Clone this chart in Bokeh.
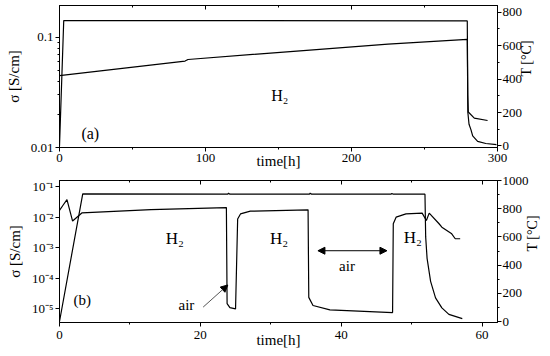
import math
from bokeh.plotting import figure
from bokeh.models import (Range1d, LinearAxis, FixedTicker, CustomJSTickFormatter,
                          Arrow, NormalHead, LinearScale)
from bokeh.layouts import column
from bokeh.embed import file_html
from bokeh.resources import INLINE
from bokeh.core.properties import value

# ---------------- data: panel (a) ----------------
a_time_sigma = [0, 86, 88, 167, 225, 279.3, 279.6, 280.0, 284.1, 293.2]
a_sigma = [0.045, 0.061, 0.063, 0.076, 0.087, 0.096, 0.030, 0.021, 0.0185, 0.0176]
a_time_T = [0, 2.9, 279.3, 279.7, 280.5, 281.8, 283.0, 286.4, 292.0, 299.3]
a_T = [0, 750, 748, 200, 130, 98, 60, 28, 15, 8]

a_xticks = [0, 100, 200, 300]
a_xminor = [50, 150, 250]
a_yticks = [0.01, 0.1]
a_yminor = [0.02, 0.03, 0.04, 0.05, 0.06, 0.07, 0.08, 0.09]
a_Tticks = [0, 200, 400, 600, 800]
a_Tminor = [100, 300, 500, 700]

a_text = ["H\u2082", "(a)"]
a_text_x = [145, 15]
a_text_y = [0.0295, 0.0134]

# ---------------- data: panel (b) ----------------
b_time_sigma = [0, 0.5, 1.06, 1.86, 3.17, 13, 23.7, 23.8, 24.2, 25.0, 25.3, 25.7, 27.1,
                35.3, 35.4, 36.0, 38.4, 47.3, 47.4, 47.8, 49.2, 51.5, 52.1, 52.5,
                53.9, 54.3, 55.7, 56.2, 56.9]
b_sigma = [0.017, 0.025, 0.038, 0.0076, 0.014, 0.018, 0.021, 1.5e-5, 1.1e-5, 1.0e-5,
           0.0089, 0.013, 0.016, 0.0177, 2.4e-5, 1.3e-5, 9.3e-6, 7.6e-6, 0.0062, 0.0102,
           0.013, 0.0138, 0.0079, 0.0138, 0.0062, 0.0048, 0.0029, 0.0020, 0.0020]
b_time_T = [0, 3.3, 23.9, 24.0, 24.2, 35.5, 35.6, 35.8, 47.1, 47.2, 47.4, 51.9,
            52.0, 52.2, 52.7, 53.4, 54.3, 55.3, 57.2]
b_T = [0, 905, 903, 910, 903, 903, 910, 903, 903, 908, 903, 903,
       600, 448, 285, 168, 97, 51, 20]

b_xticks = [0, 20, 40, 60]
b_xminor = [10, 30, 50]
b_yticks = [1e-5, 1e-4, 1e-3, 1e-2, 1e-1]
b_Tticks = [0, 200, 400, 600, 800, 1000]
b_Tminor = [100, 300, 500, 700, 900]

b_text = ["H\u2082", "H\u2082", "H\u2082", "air", "air", "(b)"]
b_text_x = [15.1, 29.9, 48.9, 39.7, 16.9, 2.0]
b_text_y = [2.0e-3, 2.0e-3, 2.2e-3, 2.6e-4, 1.35e-5, 1.9e-5]
b_text_size = ["17px", "17px", "17px", "15px", "15px", "15px"]

# arrows (data coordinates)
b_air_arrow = dict(x0=20.4, y0=1.15e-5, x1=23.9, y1=6.1e-5)
b_span_arrow = dict(x0=36.7, y0=8.1e-4, x1=46.5, y1=8.1e-4)

SERIF = "Liberation Serif"
AXFONT = "serif"
W = 550


def base_style(p):
    p.outline_line_color = "black"
    p.outline_line_width = 1
    p.outline_line_alpha = 1
    p.xgrid.visible = False
    p.ygrid.visible = False
    p.background_fill_color = "white"
    p.border_fill_color = "white"


def ax_style(ax, tick_in=0, tick_out=4):
    ax.axis_line_color = "black"
    ax.axis_line_width = 1
    ax.major_tick_line_color = "black"
    ax.minor_tick_line_color = "black"
    ax.major_tick_in = tick_in
    ax.major_tick_out = tick_out
    ax.minor_tick_in = 2 if tick_in else 0
    ax.minor_tick_out = 2 if tick_out else 0
    ax.major_label_text_font = AXFONT
    ax.major_label_text_font_size = "13px"
    ax.major_label_text_color = "black"
    ax.major_label_standoff = 2
    ax.axis_label_text_font = AXFONT
    ax.axis_label_text_font_size = "15px"
    ax.axis_label_text_font_style = "normal"
    ax.axis_label_text_color = "black"


blank = CustomJSTickFormatter(code="return ''")
sup_fmt = CustomJSTickFormatter(code="""
const e = Math.round(Math.log10(tick));
const m = {'-':'\u207b','0':'\u2070','1':'\u00b9','2':'\u00b2','3':'\u00b3','4':'\u2074','5':'\u2075','6':'\u2076','7':'\u2077','8':'\u2078','9':'\u2079'};
return '10' + String(e).split('').map(c => m[c]).join('');
""")
dec_fmt = CustomJSTickFormatter(code="return String(Number(tick.toPrecision(2)))")

# ---------------- panel (a) ----------------
p1 = figure(width=W, height=173, x_range=Range1d(0, 300), y_range=Range1d(0.01, 0.195),
            y_axis_type="log", output_backend="svg", toolbar_location=None,
            min_border_left=59, min_border_right=51, min_border_top=5, min_border_bottom=26)
base_style(p1)
p1.extra_y_ranges = {"T": Range1d(-9, 840)}
p1.extra_y_scales = {"T": LinearScale()}

xa = p1.xaxis[0]
xa.ticker = FixedTicker(ticks=a_xticks, minor_ticks=a_xminor)
ax_style(xa)
xa.axis_label = "time[h]"
xa.axis_label_standoff = -12

ya = p1.yaxis[0]
ya.ticker = FixedTicker(ticks=a_yticks, minor_ticks=a_yminor)
ya.formatter = dec_fmt
ax_style(ya)
ya.axis_label = "\u03c3 [S/cm]"
ya.axis_label_standoff = 6

ra = LinearAxis(y_range_name="T", ticker=FixedTicker(ticks=a_Tticks, minor_ticks=a_Tminor),
                axis_label="T [\u00b0C]")
ax_style(ra)
ra.major_label_standoff = 1
ra.axis_label_standoff = 1
ra.axis_label_text_font_size = "14px"
ra.axis_label_orientation = math.pi / 2
p1.add_layout(ra, "right")

ta = LinearAxis(ticker=FixedTicker(ticks=a_xticks, minor_ticks=a_xminor), formatter=blank)
ax_style(ta, tick_in=4, tick_out=0)
ta.major_label_text_font_size = "0px"
ta.major_label_standoff = 0
p1.add_layout(ta, "above")

p1.line(a_time_sigma, a_sigma, line_color="black", line_width=1.2)
p1.line(a_time_T, a_T, line_color="black", line_width=1.2, y_range_name="T")
p1.text(x=a_text_x, y=a_text_y, text=a_text, text_font=value(SERIF),
        text_font_size="16px", text_baseline="middle", text_align="left", text_color="black")

# ---------------- panel (b) ----------------
p2 = figure(width=W, height=179, x_range=Range1d(0, 62.2), y_range=Range1d(3.6e-6, 0.162),
            y_axis_type="log", output_backend="svg", toolbar_location=None,
            min_border_left=59, min_border_right=51, min_border_top=7, min_border_bottom=30)
base_style(p2)
p2.extra_y_ranges = {"T": Range1d(-7, 1000)}
p2.extra_y_scales = {"T": LinearScale()}

xb = p2.xaxis[0]
xb.ticker = FixedTicker(ticks=b_xticks, minor_ticks=b_xminor)
ax_style(xb)
xb.major_label_standoff = 4
xb.axis_label = "time[h]"
xb.axis_label_standoff = -10

yb = p2.yaxis[0]
yb.ticker = FixedTicker(ticks=b_yticks, minor_ticks=[])
yb.formatter = sup_fmt
ax_style(yb)
yb.axis_label = "\u03c3 [S/cm]"
yb.axis_label_standoff = 6

rb = LinearAxis(y_range_name="T", ticker=FixedTicker(ticks=b_Tticks, minor_ticks=b_Tminor),
                axis_label="T [\u00b0C]")
ax_style(rb)
rb.major_label_standoff = 1
rb.axis_label_standoff = 1
rb.axis_label_text_font_size = "14px"
rb.axis_label_orientation = math.pi / 2
p2.add_layout(rb, "right")

tb = LinearAxis(ticker=FixedTicker(ticks=b_xticks, minor_ticks=b_xminor), formatter=blank)
ax_style(tb, tick_in=4, tick_out=0)
tb.major_label_text_font_size = "0px"
tb.major_label_standoff = 0
p2.add_layout(tb, "above")

p2.line(b_time_sigma, b_sigma, line_color="black", line_width=1.2)
p2.line(b_time_T, b_T, line_color="black", line_width=1.2, y_range_name="T")
p2.text(x=b_text_x, y=b_text_y, text=b_text, text_font=value(SERIF),
        text_font_size=b_text_size, text_baseline="middle", text_align="left", text_color="black")

p2.add_layout(Arrow(end=NormalHead(size=7, fill_color="black", line_color="black"),
                    x_start=b_air_arrow["x0"], y_start=b_air_arrow["y0"],
                    x_end=b_air_arrow["x1"], y_end=b_air_arrow["y1"],
                    line_color="#555555", line_width=1))
p2.add_layout(Arrow(start=NormalHead(size=7, fill_color="black", line_color="black"),
                    end=NormalHead(size=7, fill_color="black", line_color="black"),
                    x_start=b_span_arrow["x0"], y_start=b_span_arrow["y0"],
                    x_end=b_span_arrow["x1"], y_end=b_span_arrow["y1"],
                    line_color="black", line_width=1))

layout = column(p1, p2, spacing=0)
open("out.html", "w").write(file_html(layout, INLINE))
